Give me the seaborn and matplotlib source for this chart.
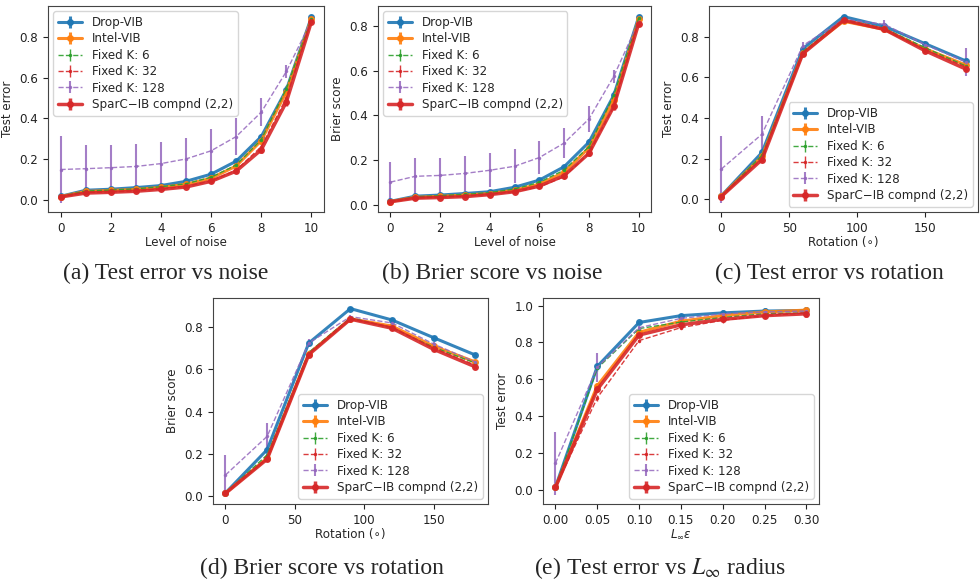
import warnings
warnings.filterwarnings("ignore")
import seaborn as sns, matplotlib.pyplot as plt

sns.set_style("ticks")
plt.rcParams['font.family'] = ['DejaVu Sans']
plt.rcParams['font.size'] = 8.6
plt.rcParams['xtick.color'] = '#222222'
plt.rcParams['ytick.color'] = '#222222'

# x values
noise = [0, 1, 2, 3, 4, 5, 6, 7, 8, 9, 10]
rotation = [0, 30, 60, 90, 120, 150, 180]
radius = [0.0, 0.05, 0.10, 0.15, 0.20, 0.25, 0.30]

methods = ['Drop-VIB', 'Intel-VIB', 'Fixed K: 6', 'Fixed K: 32', 'Fixed K: 128', 'SparC\u2212IB compnd (2,2)']

# (a) test error vs noise
err_noise_drop = [0.016, 0.046, 0.051, 0.059, 0.069, 0.090, 0.125, 0.189, 0.310, 0.540, 0.898]
err_noise_intel = [0.015, 0.040, 0.045, 0.050, 0.060, 0.075, 0.105, 0.165, 0.290, 0.530, 0.890]
err_noise_k6 = [0.016, 0.042, 0.047, 0.053, 0.063, 0.078, 0.110, 0.170, 0.295, 0.545, 0.890]
err_noise_k32 = [0.014, 0.035, 0.038, 0.043, 0.052, 0.065, 0.092, 0.145, 0.260, 0.500, 0.880]
err_noise_k128 = [0.148, 0.152, 0.157, 0.163, 0.177, 0.200, 0.240, 0.310, 0.430, 0.630, 0.880]
err_noise_sparc = [0.013, 0.032, 0.036, 0.041, 0.050, 0.062, 0.090, 0.140, 0.245, 0.480, 0.875]
err_noise_sd128 = [0.163, 0.115, 0.110, 0.108, 0.108, 0.105, 0.105, 0.090, 0.070, 0.030, 0.010]
err_noise_sd = [0.004, 0.004, 0.004, 0.004, 0.004, 0.005, 0.007, 0.010, 0.015, 0.020, 0.008]

# (b) brier score vs noise
bri_noise_drop = [0.015, 0.038, 0.043, 0.050, 0.058, 0.078, 0.110, 0.170, 0.280, 0.490, 0.840]
bri_noise_intel = [0.014, 0.033, 0.037, 0.043, 0.050, 0.065, 0.092, 0.145, 0.255, 0.470, 0.830]
bri_noise_k6 = [0.015, 0.035, 0.040, 0.046, 0.054, 0.070, 0.100, 0.155, 0.260, 0.490, 0.835]
bri_noise_k32 = [0.013, 0.030, 0.034, 0.038, 0.046, 0.058, 0.080, 0.125, 0.230, 0.440, 0.820]
bri_noise_k128 = [0.101, 0.127, 0.131, 0.140, 0.154, 0.172, 0.211, 0.276, 0.384, 0.575, 0.820]
bri_noise_sparc = [0.013, 0.029, 0.032, 0.036, 0.045, 0.058, 0.083, 0.130, 0.230, 0.440, 0.810]
bri_noise_sd128 = [0.092, 0.080, 0.080, 0.078, 0.077, 0.076, 0.075, 0.067, 0.060, 0.030, 0.010]
bri_noise_sd = [0.003, 0.003, 0.003, 0.003, 0.004, 0.004, 0.006, 0.008, 0.012, 0.018, 0.008]

# (c) test error vs rotation
err_rot_drop = [0.016, 0.230, 0.740, 0.898, 0.850, 0.765, 0.680]
err_rot_intel = [0.015, 0.210, 0.720, 0.875, 0.835, 0.740, 0.660]
err_rot_k6 = [0.015, 0.215, 0.725, 0.885, 0.840, 0.745, 0.655]
err_rot_k32 = [0.014, 0.200, 0.720, 0.880, 0.835, 0.735, 0.650]
err_rot_k128 = [0.148, 0.320, 0.755, 0.885, 0.860, 0.760, 0.675]
err_rot_sparc = [0.013, 0.195, 0.715, 0.880, 0.835, 0.730, 0.640]
err_rot_sd128 = [0.165, 0.090, 0.020, 0.010, 0.020, 0.020, 0.070]
err_rot_sd = [0.004, 0.010, 0.010, 0.006, 0.008, 0.010, 0.012]

# (d) brier score vs rotation
bri_rot_drop = [0.015, 0.220, 0.725, 0.888, 0.834, 0.750, 0.668]
bri_rot_intel = [0.014, 0.180, 0.675, 0.840, 0.805, 0.710, 0.635]
bri_rot_k6 = [0.014, 0.195, 0.680, 0.845, 0.795, 0.705, 0.630]
bri_rot_k32 = [0.013, 0.180, 0.675, 0.840, 0.800, 0.700, 0.620]
bri_rot_k128 = [0.100, 0.283, 0.725, 0.850, 0.820, 0.720, 0.635]
bri_rot_sparc = [0.013, 0.175, 0.670, 0.838, 0.795, 0.695, 0.612]
bri_rot_sd128 = [0.093, 0.063, 0.020, 0.010, 0.010, 0.010, 0.010]
bri_rot_sd = [0.003, 0.008, 0.010, 0.006, 0.008, 0.010, 0.010]

# (e) test error vs L_inf radius
err_rad_drop = [0.016, 0.670, 0.908, 0.945, 0.960, 0.970, 0.973]
err_rad_intel = [0.015, 0.565, 0.855, 0.915, 0.945, 0.965, 0.975]
err_rad_k6 = [0.015, 0.660, 0.875, 0.910, 0.935, 0.955, 0.960]
err_rad_k32 = [0.014, 0.500, 0.810, 0.880, 0.920, 0.945, 0.960]
err_rad_k128 = [0.145, 0.665, 0.880, 0.930, 0.955, 0.965, 0.970]
err_rad_sparc = [0.014, 0.545, 0.840, 0.895, 0.925, 0.945, 0.955]
err_rad_sd128 = [0.170, 0.080, 0.010, 0.010, 0.010, 0.010, 0.010]
err_rad_sd = [0.004, 0.015, 0.010, 0.010, 0.015, 0.015, 0.015]

pal = sns.color_palette("tab10")
styles = [
    dict(color=pal[0], ls='-', lw=2.2, marker='o', ms=4),
    dict(color=pal[1], ls='-', lw=2.2, marker='o', ms=4),
    dict(color=pal[2], ls='--', lw=1.0, marker='.', ms=3),
    dict(color=pal[3], ls='--', lw=1.0, marker='.', ms=3),
    dict(color=pal[4], ls='--', lw=1.0, marker='.', ms=3),
    dict(color=pal[3], ls='-', lw=2.5, marker='o', ms=4),
]

def panel(ax, x, series, sd128, sd, xlabel, ylabel, loc):
    for i, (name, y) in enumerate(zip(methods, series)):
        st = styles[i]
        e = sd128 if i == 4 else sd
        ax.errorbar(x, y, yerr=e, label=name, color=st['color'], ls=st['ls'],
                    lw=st['lw'], marker=st['marker'], ms=st['ms'],
                    elinewidth=1.5 if i == 4 else st['lw'], ecolor=st['color'],
                    alpha=0.9 if i != 4 else 0.85)
    ax.set_xlabel(xlabel, labelpad=1)
    ax.set_ylabel(ylabel)
    ax.legend(loc=loc, fontsize=8.6, handlelength=2.0, labelspacing=0.28,
              borderaxespad=0.45)
    for s in ax.spines.values():
        s.set_color('#444444')
        s.set_linewidth(0.8)

fig = plt.figure(figsize=(9.8, 5.82), dpi=100)
axa = fig.add_axes([0.049, 0.6357, 0.2816, 0.354])
axb = fig.add_axes([0.3857, 0.6357, 0.2786, 0.354])
axc = fig.add_axes([0.7235, 0.6357, 0.2745, 0.354])
axd = fig.add_axes([0.2173, 0.134, 0.2806, 0.354])
axe = fig.add_axes([0.554, 0.134, 0.2816, 0.354])

panel(axa, noise, [err_noise_drop, err_noise_intel, err_noise_k6, err_noise_k32, err_noise_k128, err_noise_sparc],
      err_noise_sd128, err_noise_sd, 'Level of noise', 'Test error', 'upper left')
panel(axb, noise, [bri_noise_drop, bri_noise_intel, bri_noise_k6, bri_noise_k32, bri_noise_k128, bri_noise_sparc],
      bri_noise_sd128, bri_noise_sd, 'Level of noise', 'Brier score', 'upper left')
panel(axc, rotation, [err_rot_drop, err_rot_intel, err_rot_k6, err_rot_k32, err_rot_k128, err_rot_sparc],
      err_rot_sd128, err_rot_sd, 'Rotation (\u2218)', 'Test error', 'lower right')
panel(axd, rotation, [bri_rot_drop, bri_rot_intel, bri_rot_k6, bri_rot_k32, bri_rot_k128, bri_rot_sparc],
      bri_rot_sd128, bri_rot_sd, 'Rotation (\u2218)', 'Brier score', 'lower right')
panel(axe, radius, [err_rad_drop, err_rad_intel, err_rad_k6, err_rad_k32, err_rad_k128, err_rad_sparc],
      err_rad_sd128, err_rad_sd, r'$L_\infty \epsilon$', 'Test error', 'lower right')

for a in (axa, axb):
    a.set_xticks([0, 2, 4, 6, 8, 10])
for a in (axc, axd):
    a.set_xticks([0, 50, 100, 150])
for a in (axa, axb, axc, axd):
    a.set_yticks([0.0, 0.2, 0.4, 0.6, 0.8])
axe.set_xticks(radius)
axe.set_yticks([0.0, 0.2, 0.4, 0.6, 0.8, 1.0])

cap = dict(fontsize=17, family='Liberation Serif', ha='center', va='center', math_fontfamily='stix')
fig.text(166 / 980, 1 - 273 / 582, '(a) Test error vs noise', **cap)
fig.text(492 / 980, 1 - 273 / 582, '(b) Brier score vs noise', **cap)
fig.text(829 / 980, 1 - 273 / 582, '(c) Test error vs rotation', **cap)
fig.text(322 / 980, 1 - 568 / 582, '(d) Brier score vs rotation', **cap)
fig.text(660 / 980, 1 - 568 / 582, r'(e) Test error vs $L_\infty$ radius', **cap)

fig.savefig('out.png', dpi=100)
